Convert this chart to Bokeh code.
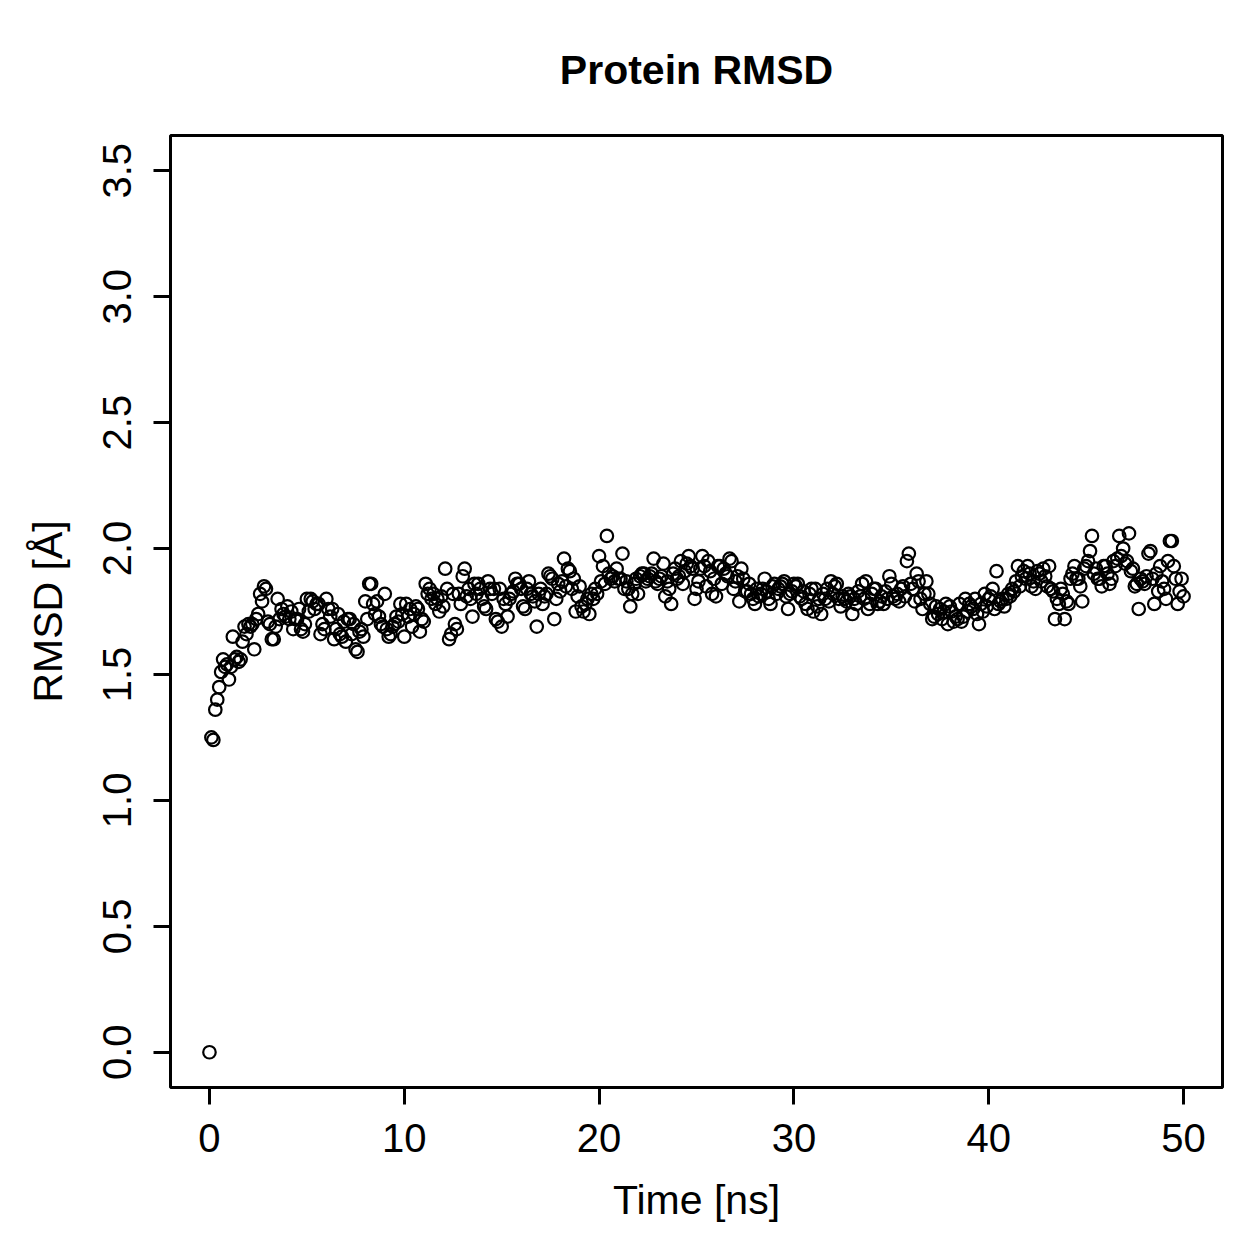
from bokeh.plotting import figure
from bokeh.models import Range1d, FixedTicker, PrintfTickFormatter
from bokeh.embed import file_html
from bokeh.resources import INLINE

# RMSD values, one per 0.1 ns from 0 to 50 ns
rmsd = [
    0.00, 1.25, 1.24, 1.36, 1.40, 1.45, 1.51, 1.56, 1.53, 1.54,
    1.48, 1.53, 1.65, 1.56, 1.57, 1.55, 1.56, 1.63, 1.69, 1.66,
    1.70, 1.69, 1.70, 1.60, 1.72, 1.74, 1.82, 1.79, 1.85, 1.84,
    1.71, 1.70, 1.64, 1.64, 1.69, 1.80, 1.72, 1.76, 1.74, 1.73,
    1.77, 1.72, 1.75, 1.68, 1.72, 1.72, 1.76, 1.68, 1.67, 1.70,
    1.80, 1.75, 1.80, 1.79, 1.76, 1.78, 1.78, 1.66, 1.70, 1.68,
    1.80, 1.76, 1.73, 1.76, 1.64, 1.68, 1.74, 1.66, 1.65, 1.71,
    1.63, 1.72, 1.72, 1.66, 1.70, 1.60, 1.59, 1.67, 1.68, 1.65,
    1.79, 1.72, 1.86, 1.86, 1.78, 1.74, 1.79, 1.73, 1.70, 1.69,
    1.82, 1.68, 1.65, 1.66, 1.69, 1.70, 1.73, 1.71, 1.78, 1.74,
    1.65, 1.78, 1.73, 1.76, 1.69, 1.74, 1.77, 1.76, 1.67, 1.72,
    1.71, 1.86, 1.82, 1.84, 1.80, 1.82, 1.78, 1.80, 1.75, 1.81,
    1.77, 1.92, 1.84, 1.64, 1.66, 1.82, 1.70, 1.68, 1.82, 1.78,
    1.89, 1.92, 1.81, 1.84, 1.80, 1.73, 1.86, 1.82, 1.86, 1.84,
    1.80, 1.77, 1.76, 1.87, 1.84, 1.82, 1.84, 1.72, 1.71, 1.84,
    1.69, 1.80, 1.78, 1.73, 1.80, 1.82, 1.83, 1.88, 1.86, 1.86,
    1.84, 1.77, 1.76, 1.84, 1.87, 1.82, 1.81, 1.79, 1.69, 1.82,
    1.84, 1.78, 1.81, 1.82, 1.90, 1.89, 1.88, 1.72, 1.80, 1.86,
    1.83, 1.87, 1.96, 1.85, 1.92, 1.91, 1.84, 1.88, 1.75, 1.81,
    1.85, 1.77, 1.75, 1.78, 1.80, 1.74, 1.82, 1.80, 1.84, 1.82,
    1.97, 1.87, 1.93, 1.86, 2.05, 1.90, 1.88, 1.89, 1.87, 1.92,
    1.88, 1.88, 1.98, 1.84, 1.87, 1.84, 1.77, 1.82, 1.86, 1.88,
    1.82, 1.89, 1.90, 1.90, 1.87, 1.88, 1.89, 1.90, 1.96, 1.87,
    1.86, 1.88, 1.89, 1.94, 1.81, 1.87, 1.84, 1.78, 1.90, 1.92,
    1.88, 1.89, 1.95, 1.86, 1.91, 1.94, 1.97, 1.93, 1.92, 1.80,
    1.84, 1.87, 1.92, 1.97, 1.93, 1.85, 1.95, 1.91, 1.82, 1.88,
    1.81, 1.93, 1.93, 1.86, 1.92, 1.90, 1.89, 1.96, 1.95, 1.84,
    1.87, 1.89, 1.79, 1.92, 1.88, 1.83, 1.83, 1.86, 1.82, 1.80,
    1.78, 1.84, 1.81, 1.82, 1.84, 1.88, 1.83, 1.80, 1.78, 1.85,
    1.86, 1.82, 1.84, 1.85, 1.86, 1.87, 1.81, 1.76, 1.82, 1.83,
    1.86, 1.85, 1.86, 1.81, 1.80, 1.83, 1.78, 1.76, 1.82, 1.84,
    1.75, 1.84, 1.77, 1.80, 1.74, 1.82, 1.80, 1.84, 1.79, 1.87,
    1.82, 1.85, 1.86, 1.80, 1.77, 1.81, 1.80, 1.79, 1.82, 1.81,
    1.74, 1.80, 1.78, 1.83, 1.81, 1.86, 1.80, 1.87, 1.76, 1.78,
    1.82, 1.84, 1.84, 1.78, 1.79, 1.81, 1.78, 1.83, 1.80, 1.89,
    1.86, 1.81, 1.80, 1.82, 1.79, 1.84, 1.85, 1.81, 1.95, 1.98,
    1.86, 1.84, 1.79, 1.90, 1.87, 1.80, 1.76, 1.82, 1.87, 1.82,
    1.78, 1.72, 1.73, 1.77, 1.74, 1.76, 1.72, 1.75, 1.78, 1.70,
    1.77, 1.75, 1.71, 1.73, 1.72, 1.78, 1.71, 1.73, 1.80, 1.75,
    1.78, 1.77, 1.76, 1.80, 1.74, 1.70, 1.78, 1.75, 1.82, 1.77,
    1.80, 1.81, 1.84, 1.76, 1.91, 1.78, 1.79, 1.80, 1.77, 1.80,
    1.82, 1.81, 1.84, 1.83, 1.87, 1.93, 1.85, 1.89, 1.91, 1.88,
    1.93, 1.90, 1.85, 1.87, 1.84, 1.91, 1.90, 1.87, 1.92, 1.89,
    1.85, 1.93, 1.84, 1.83, 1.72, 1.80, 1.78, 1.84, 1.82, 1.72,
    1.79, 1.78, 1.88, 1.90, 1.93, 1.88, 1.88, 1.85, 1.79, 1.92,
    1.93, 1.95, 1.99, 2.05, 1.90, 1.92, 1.88, 1.88, 1.85, 1.93,
    1.93, 1.90, 1.86, 1.88, 1.95, 1.93, 1.96, 2.05, 1.97, 2.00,
    1.94, 1.95, 2.06, 1.91, 1.92, 1.85, 1.86, 1.76, 1.88, 1.87,
    1.86, 1.89, 1.98, 1.99, 1.88, 1.78, 1.90, 1.83, 1.93, 1.87,
    1.84, 1.80, 1.95, 2.03, 2.03, 1.93, 1.88, 1.78, 1.83, 1.88,
    1.81,
]
time_step_ns = 0.1
time_ns = [round(i * time_step_ns, 1) for i in range(len(rmsd))]

x_ticks = [0, 10, 20, 30, 40, 50]
y_ticks = [0.0, 0.5, 1.0, 1.5, 2.0, 2.5, 3.0, 3.5]

FONT = "Liberation Sans"

p = figure(
    width=1259, height=1259,
    output_backend="svg", toolbar_location=None,
    x_range=Range1d(-2, 52), y_range=Range1d(-0.14, 3.64),
    min_border_left=170, min_border_right=37,
    min_border_top=135, min_border_bottom=172,
    title="Protein RMSD",
)
p.background_fill_color = "white"
p.border_fill_color = "white"
p.outline_line_color = "black"
p.outline_line_width = 3
p.xgrid.visible = False
p.ygrid.visible = False

p.title.text_font = FONT
p.title.text_font_size = "41px"
p.title.text_font_style = "bold"
p.title.text_color = "black"
p.title.align = "center"
p.title.standoff = 85

p.scatter(time_ns, rmsd, marker="circle", size=12.5, fill_color=None,
          line_color="black", line_width=2.2)

for ax in (p.xaxis[0], p.yaxis[0]):
    ax.axis_line_color = None
    ax.major_tick_line_color = "black"
    ax.major_tick_line_width = 3
    ax.major_tick_out = 17
    ax.major_tick_in = 0
    ax.minor_tick_line_color = None
    ax.major_label_text_font = FONT
    ax.major_label_text_font_size = "40px"
    ax.major_label_text_color = "black"
    ax.axis_label_text_font = FONT
    ax.axis_label_text_font_size = "41px"
    ax.axis_label_text_font_style = "normal"
    ax.axis_label_text_color = "black"

p.xaxis[0].ticker = FixedTicker(ticks=x_ticks)
p.xaxis[0].formatter = PrintfTickFormatter(format="%d")
p.xaxis[0].axis_label = "Time [ns]"
p.xaxis[0].major_label_standoff = 19
p.xaxis[0].axis_label_standoff = 22

p.yaxis[0].ticker = FixedTicker(ticks=y_ticks)
p.yaxis[0].formatter = PrintfTickFormatter(format="%.1f")
p.yaxis[0].axis_label = "RMSD [Å]"
p.yaxis[0].major_label_orientation = "vertical"
p.yaxis[0].major_label_standoff = 22
p.yaxis[0].axis_label_standoff = 30

open("out.html", "w").write(file_html(p, INLINE))
